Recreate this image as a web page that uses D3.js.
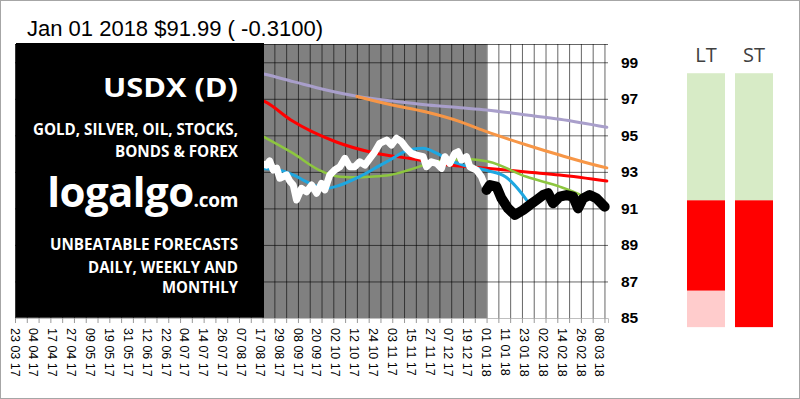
<!DOCTYPE html>
<html>
<head>
<meta charset="utf-8">
<script src="https://cdn.jsdelivr.net/npm/d3@7/dist/d3.min.js"></script>
<style>
body{margin:0;background:#fff;}
svg{display:block;}
</style>
</head>
<body>
<svg></svg>
<script>

//tick labels along the bottom, one every 8 trading days
var dateLabels = ["23 03 17","04 04 17","17 04 17","27 04 17","09 05 17","19 05 17",
    "31 05 17","12 06 17","22 06 17","04 07 17","14 07 17","26 07 17","07 08 17",
    "17 08 17","29 08 17","08 09 17","20 09 17","02 10 17","12 10 17","24 10 17",
    "03 11 17","15 11 17","27 11 17","07 12 17","19 12 17","01 01 18","11 01 18",
    "23 01 18","02 02 18","14 02 18","26 02 18","08 03 18"];
var yTicks = [85,87,89,91,93,95,97,99];

//series are [trading day number, price]
var purpleLine = [[100,98.5],[106,98.34],[118,97.94],[132,97.48],[146,97.12],[160,96.88],
    [175,96.66],[189,96.51],[200,96.39],[217,96.11],[231,95.88],[251,95.44]];
var orangeLine = [[145,97.13],[160,96.66],[174,96.29],[189,95.74],[200,95.2],
    [217,94.47],[231,93.92],[249,93.28],[251,93.22]];
var redLine = [[100,97.1],[106,96.84],[117,95.84],[136,94.65],[153,94.02],[167,93.74],
    [184,93.37],[201,93.19],[217,92.99],[231,92.83],[251,92.5]];
var greenLine = [[100,95.3],[104,95.02],[118,94.01],[129,93.1],[138,92.73],[146,92.7],
    [150,92.73],[159,92.83],[167,93.1],[176,93.47],[184,93.65],[193,93.69],[201,93.55],
    [217,92.73],[231,92.19],[240,91.73],[242,91.6]];
var blueLine = [[100,93.3],[105,93.19],[112,93.1],[118,92.83],[125,92.37],[132,92.1],
    [138,92.28],[146,92.73],[155,93.37],[159,93.65],[167,94.2],[173,94.29],[179,94.01],
    [184,93.65],[190,93.37],[196,93.2],[201,93.05],[208,92.73],[215,91.8],[217,91.45]];
var priceLine = [[100,93.4],[104,93.47],[106.7,93.37],[108,93.6],[109.5,93.1],[111,93.2],[112.3,92.65],
    [115.2,92.83],[116.5,92.5],[118,92.28],[119.4,91.46],[121.5,92.1],[123.7,91.91],[125.8,92.28],
    [127.9,91.83],[130,92.37],[131.4,92.01],[133.5,92.83],[135.6,93.1],[137.8,93.28],
    [139.9,93.74],[142,93.28],[144.1,93.28],[146.2,93.55],[148.4,93.37],[150.5,93.74],
    [152.6,94.1],[154.7,94.56],[157.6,94.74],[159.7,94.47],[161.8,94.84],[163.9,94.65],
    [166,94.29],[168.2,94.01],[170.3,93.92],[173.1,93.83],[174.5,93.28],[176.6,93.55],
    [178.8,93.47],[180.9,93.19],[182.3,93.83],[184.4,93.47],[186.5,94.01],[187.9,94.1],
    [189.4,93.65],[191.5,93.83],[192.9,93.28],[195.7,93.1],[197.8,92.73],[199.2,92.28],[200,91.99]];
var forecastLine = [[200,92.01],[201.4,92.28],[204.2,92.19],[206.3,91.55],[209.1,91.0],
    [212,90.64],[215.5,90.91],[218.3,91.19],[221.2,91.46],[224,91.73],[226.1,91.83],
    [228.2,91.28],[231,91.64],[233.9,91.73],[236.7,91.64],[238.8,91.0],[240.9,91.55],
    [243.7,91.73],[246.6,91.55],[250.1,91.09]];

//LT / ST zones, in price units
var barNames = ["LT","ST"];
var ltZones = [{from:84.5,to:86.5,zone:"weak"},{from:86.5,to:91.45,zone:"bear"},{from:91.45,to:98.4,zone:"bull"}];
var stZones = [{from:84.5,to:91.45,zone:"bear"},{from:91.45,to:98.4,zone:"bull"}];

var historyEnd = 200;   //01 01 18

var zoneColor = {weak:"#ffcccc",bear:"#ff0000",bull:"#d7ebc6"};

var svg = d3.select("svg")
    .attr("width",800)
    .attr("height",399);

var plot = {left:15,right:608,top:44,bottom:318};

var xScale = d3.scaleLinear()
    .domain([0,251.5])
    .range([plot.left,plot.right]);

var yScale = d3.scaleLinear()
    .domain([85,100])
    .range([plot.bottom,plot.top]);

//outer frame
svg.append("rect")
    .attr("x",0.5).attr("y",0.5)
    .attr("width",799).attr("height",398)
    .attr("fill","white")
    .attr("stroke","#a6a6a6");

//grey history background
svg.append("rect")
    .attr("x",xScale(0))
    .attr("y",plot.top)
    .attr("width",xScale(historyEnd)-xScale(0))
    .attr("height",plot.bottom-plot.top)
    .attr("fill","#808080");

//grid
var grid = svg.append("g").attr("class","grid");
grid.append("g")
    .attr("transform","translate(0,"+plot.bottom+")")
    .call(d3.axisBottom(xScale)
        .tickValues(d3.range(0,251,5))
        .tickSize(-(plot.bottom-plot.top))
        .tickFormat(""));
grid.append("g")
    .attr("transform","translate("+plot.left+",0)")
    .call(d3.axisLeft(yScale)
        .tickValues(yTicks.concat([100]))
        .tickSize(-(plot.right-plot.left))
        .tickFormat(""));
grid.selectAll(".domain").remove();
grid.selectAll("line")
    .attr("stroke","#000")
    .attr("stroke-opacity",0.6);

var drawLine = function(data,color,width,curve)
{
    var line = d3.line()
        .x(function(d){ return xScale(d[0]); })
        .y(function(d){ return yScale(d[1]); })
        .curve(curve);
    svg.append("path")
        .datum(data)
        .attr("d",line)
        .attr("fill","none")
        .attr("stroke",color)
        .attr("stroke-width",width)
        .attr("stroke-linejoin","round")
        .attr("stroke-linecap","round");
}

drawLine(purpleLine,"#a99fcb",3,d3.curveMonotoneX);
drawLine(orangeLine,"#f79646",3,d3.curveMonotoneX);
drawLine(redLine,"#ff0000",3,d3.curveMonotoneX);
drawLine(greenLine,"#8dc63f",2.5,d3.curveMonotoneX);
drawLine(blueLine,"#1ea7e1",3,d3.curveMonotoneX);
drawLine(priceLine,"#ffffff",7,d3.curveLinear);
drawLine(forecastLine,"#000000",10,d3.curveLinear);

//bottom ticks and labels
var xAxis = svg.append("g")
    .attr("transform","translate(0,"+plot.bottom+")")
    .call(d3.axisBottom(xScale)
        .tickValues(d3.range(0,251,5))
        .tickSize(5)
        .tickFormat(""));
xAxis.select(".domain").attr("stroke","#bfbfbf");
xAxis.selectAll("line").attr("stroke","#999");

svg.append("g")
    .selectAll("text")
    .data(dateLabels)
    .enter()
    .append("text")
    .text(function(d){ return d; })
    .attr("transform",function(d,i)
    {
        return "translate("+xScale(i*8)+",328) rotate(90)";
    })
    .attr("dy","0.35em")
    .attr("font-family","Liberation Sans, Arial, sans-serif")
    .attr("font-size",12.5)
    .attr("fill","#000");

//right price labels
svg.append("g")
    .selectAll("text")
    .data(yTicks)
    .enter()
    .append("text")
    .text(function(d){ return d; })
    .attr("x",621)
    .attr("y",function(d){ return yScale(d); })
    .attr("dy","0.35em")
    .attr("font-family","Liberation Sans, Arial, sans-serif")
    .attr("font-weight","bold")
    .attr("font-size",15.5)
    .attr("fill","#000");

//black banner over the early part
svg.append("rect")
    .attr("x",16)
    .attr("y",plot.top-1)
    .attr("width",248)
    .attr("height",plot.bottom-plot.top+0.5)
    .attr("fill","#000");

var banner = [
    {text:"USDX (D)",x:103,y:97,size:27,len:135},
    {text:"GOLD, SILVER, OIL, STOCKS,",x:33,y:135,size:16,len:205},
    {text:"BONDS & FOREX",x:115,y:157,size:16,len:123},
    {text:"UNBEATABLE FORECASTS",x:50,y:250,size:16,len:188},
    {text:"DAILY, WEEKLY AND",x:88,y:273,size:16,len:150},
    {text:"MONTHLY",x:162,y:293,size:16,len:76}
];
var bannerText = svg.append("g")
    .attr("font-family","Open Sans, sans-serif")
    .attr("font-weight","bold")
    .attr("fill","#fff");

bannerText.selectAll("text")
    .data(banner)
    .enter()
    .append("text")
    .text(function(d){ return d.text; })
    .attr("x",function(d){ return d.x; })
    .attr("y",function(d){ return d.y; })
    .attr("font-size",function(d){ return d.size; })
    .attr("textLength",function(d){ return d.len; })
    .attr("lengthAdjust","spacingAndGlyphs");

//site name, big part and small .com in one line
var site = bannerText.append("text")
    .attr("x",238)
    .attr("y",207)
    .attr("text-anchor","end");
site.append("tspan")
    .text("logalgo")
    .attr("font-size",42)
    .attr("letter-spacing",-0.6);
site.append("tspan")
    .text(".com")
    .attr("font-size",19)
    .attr("letter-spacing",-0.3);

//title
svg.append("text")
    .text("Jan 01 2018 $91.99 ( -0.3100)")
    .attr("x",27)
    .attr("y",35.5)
    .attr("font-family","Liberation Sans, Arial, sans-serif")
    .attr("font-size",22)
    .attr("fill","#000");

//LT / ST zone bars
var barScale = d3.scaleBand()
    .domain(barNames)
    .range([687,773])
    .paddingInner(0.2083);

var drawBar = function(name,zones)
{
    svg.append("g")
        .selectAll("rect")
        .data(zones)
        .enter()
        .append("rect")
        .attr("x",barScale(name))
        .attr("width",barScale.bandwidth())
        .attr("y",function(z){ return yScale(z.to); })
        .attr("height",function(z){ return yScale(z.from)-yScale(z.to); })
        .attr("fill",function(z){ return zoneColor[z.zone]; });

    svg.append("text")
        .text(name)
        .attr("x",barScale(name)+barScale.bandwidth()/2)
        .attr("y",62)
        .attr("text-anchor","middle")
        .attr("font-family","Open Sans, sans-serif")
        .attr("font-size",20)
        .attr("fill","#404040");
}

drawBar("LT",ltZones);
drawBar("ST",stZones);

</script>
</body>
</html>
